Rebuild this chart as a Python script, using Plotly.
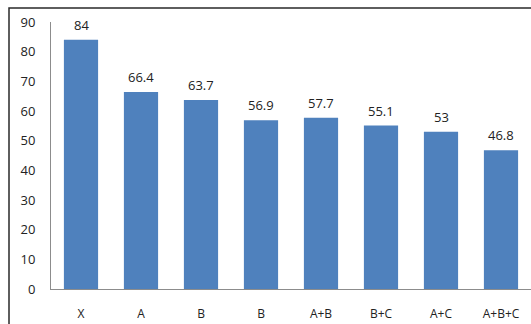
import plotly.graph_objects as go

categories = ["X", "A", "B", "B", "A+B", "B+C", "A+C", "A+B+C"]
values = [84, 66.4, 63.7, 56.9, 57.7, 55.1, 53, 46.8]
yticks = [0, 10, 20, 30, 40, 50, 60, 70, 80, 90]

W, H = 531, 324
ml, mr, mt, mb = 51, 0, 22, 35
pw, ph = W - ml - mr, H - mt - mb

positions = list(range(len(categories)))
font = dict(family="Open Sans, Noto Sans, sans-serif", size=12, color="#222")

fig = go.Figure(go.Bar(
    x=positions, y=values, marker=dict(color="#4F81BD", line=dict(width=0)),
    width=0.57,
))

for xi, v in zip(positions, values):
    fig.add_annotation(x=xi, y=v, text=f"{v:g}", showarrow=False,
                       yanchor="bottom", yshift=4, font=dict(size=13, color="#222",
                       family="Open Sans, Noto Sans, sans-serif"))

fig.update_layout(
    width=W, height=H,
    margin=dict(l=ml, r=mr, t=mt, b=mb),
    paper_bgcolor="white", plot_bgcolor="white",
    showlegend=False,
    font=font,
    xaxis=dict(
        tickmode="array", tickvals=positions, ticktext=categories,
        range=[-0.5, len(categories) - 0.5],
        showgrid=False, zeroline=False, showline=True, linecolor="#8c8c8c", linewidth=1,
        ticks="", ticklabelstandoff=14, tickfont=dict(size=12, color="#222"),
        fixedrange=True,
    ),
    yaxis=dict(
        range=[0, 90], tickvals=yticks, showgrid=False, zeroline=False,
        showline=True, linecolor="#8c8c8c", linewidth=1,
        ticks="", ticklabelstandoff=12, tickfont=dict(size=13, color="#222"),
        fixedrange=True,
    ),
)

# outer chart border (cropped on right and bottom)
x0 = (9 - ml) / pw
y1 = (H - mb - 8) / ph
fig.add_shape(type="rect", xref="paper", yref="paper",
              x0=x0, x1=1.2, y0=-0.5, y1=y1,
              line=dict(color="#2a2a2a", width=1.5), layer="below")

fig.write_html("out.html")
